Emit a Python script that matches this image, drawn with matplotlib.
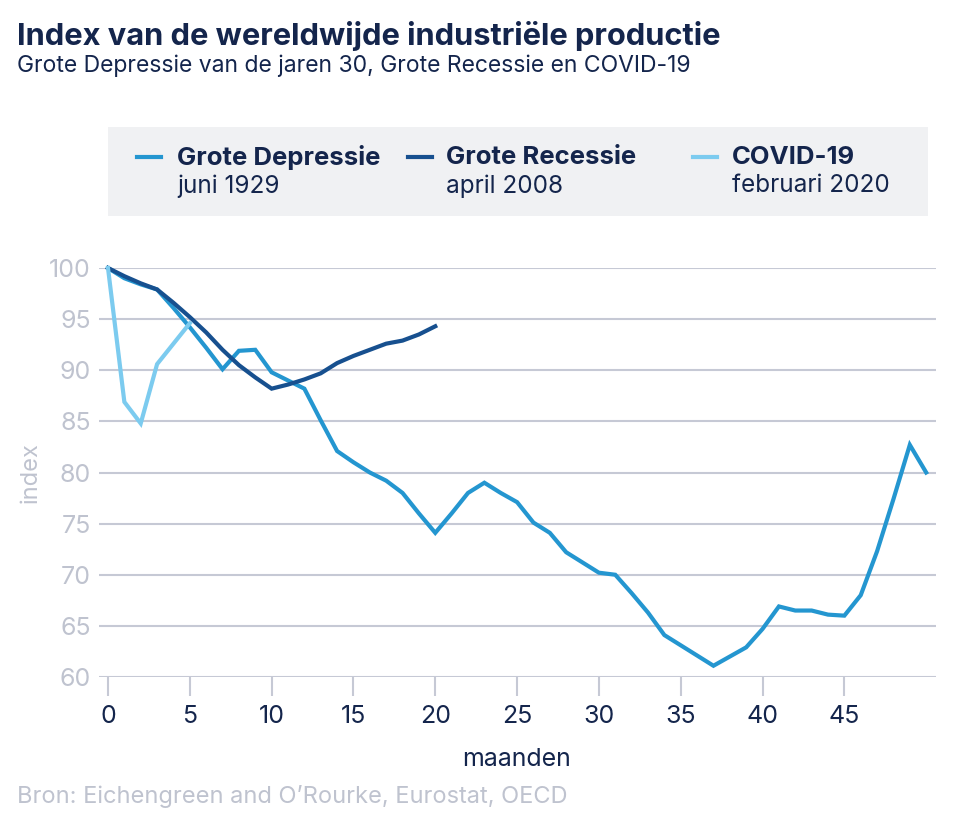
import matplotlib
matplotlib.use("Agg")
import matplotlib.pyplot as plt
from matplotlib.lines import Line2D
from matplotlib.patches import Rectangle

# ---- data ----
depressie_x = list(range(0, 51))
depressie_y = [100.0, 99.0, 98.4, 97.9, 96.1, 94.2, 92.2, 90.1, 91.9, 92.0,
               89.8, 89.0, 88.2, 85.1, 82.1, 81.0, 80.0, 79.2, 78.0, 76.0,
               74.1, 76.0, 78.0, 79.0, 78.0, 77.1, 75.1, 74.1, 72.2, 71.2,
               70.2, 70.0, 68.2, 66.3, 64.1, 63.1, 62.1, 61.1, 62.0, 62.9,
               64.7, 66.9, 66.5, 66.5, 66.1, 66.0, 68.0, 72.3, 77.4, 82.7, 80.0]
recessie_x = list(range(0, 21))
recessie_y = [100.0, 99.2, 98.5, 97.9, 96.6, 95.2, 93.7, 92.0, 90.5, 89.3,
              88.2, 88.6, 89.1, 89.7, 90.7, 91.4, 92.0, 92.6, 92.9, 93.5, 94.3]
covid_x = [0, 1, 2, 3, 4, 5]
covid_y = [100.0, 86.9, 84.8, 90.6, 92.6, 94.6]

series_names = ["Grote Depressie", "Grote Recessie", "COVID-19"]
series_dates = ["juni 1929", "april 2008", "februari 2020"]
x_ticks = [0, 5, 10, 15, 20, 25, 30, 35, 40, 45]
y_ticks = [60, 65, 70, 75, 80, 85, 90, 95, 100]

title = "Index van de wereldwijde industriële productie"
subtitle = "Grote Depressie van de jaren 30, Grote Recessie en COVID-19"
source = "Bron: Eichengreen and O’Rourke, Eurostat, OECD"

# ---- style ----
NAVY = "#14254c"
GRAY_TXT = "#bfc3cf"
GRID = "#c6c9d5"
C_DEP = "#2496d0"
C_REC = "#17508f"
C_COV = "#7ccbef"
colors = [C_DEP, C_REC, C_COV]
FONT = ["Inter", "DejaVu Sans"]
plt.rcParams["font.family"] = FONT

W, H = 960, 824
fig = plt.figure(figsize=(W / 100, H / 100), dpi=100)

def fx(px):
    return px / W

def fy(py):
    return 1 - py / H

ax = fig.add_axes([fx(99), fy(677), fx(936) - fx(99), fy(268) - fy(677)])
ax.set_xlim(-0.55, 50.6)
ax.set_ylim(60, 100)

for ys in y_ticks:
    ax.axhline(ys, color=GRID, lw=1.5, zorder=1)

ax.plot(depressie_x, depressie_y, color=C_DEP, lw=3.0, zorder=3, clip_on=False,
        solid_joinstyle="miter")
ax.plot(recessie_x, recessie_y, color=C_REC, lw=3.0, zorder=4, clip_on=False,
        solid_joinstyle="miter")
ax.plot(covid_x, covid_y, color=C_COV, lw=3.0, zorder=5, clip_on=False,
        solid_joinstyle="miter")

for s in ax.spines.values():
    s.set_visible(False)
ax.set_xticks(x_ticks)
ax.set_xticklabels([str(t) for t in x_ticks])
ax.set_yticks(y_ticks)
ax.set_yticklabels([str(t) for t in y_ticks])
ax.tick_params(axis="x", length=14, width=1.5, colors=GRID, labelcolor=NAVY,
               labelsize=18, pad=6)
ax.tick_params(axis="y", length=0, labelsize=18, labelcolor=GRAY_TXT, pad=6)
ax.set_facecolor("none")

# axis titles
fig.text(fx(517), fy(760), "maanden", ha="center", va="center",
         fontsize=18, color=NAVY)
fig.text(fx(31), fy(473), "index", ha="center", va="center", rotation=90,
         fontsize=17, color=GRAY_TXT)

# title, subtitle, source
fig.text(fx(17), fy(36), title, ha="left", va="center", fontsize=22.2,
         fontweight="bold", color=NAVY)
fig.text(fx(17), fy(66), subtitle, ha="left", va="center", fontsize=16.5,
         color=NAVY)
fig.text(fx(17), fy(797), source, ha="left", va="center", fontsize=17,
         color=GRAY_TXT)

# legend box
fig.patches.append(Rectangle((fx(108), fy(216)), fx(928) - fx(108),
                             fy(127) - fy(216), transform=fig.transFigure,
                             facecolor="#f0f1f3", edgecolor="none", zorder=0))
line_x = [137, 408, 693]
text_x = [177, 446, 732]
for i in range(3):
    fig.lines.append(Line2D([fx(line_x[i]), fx(line_x[i] + 24)], [fy(157), fy(157)],
                            transform=fig.transFigure, color=colors[i], lw=3.0))
    fig.text(fx(text_x[i]), fy(157), series_names[i], ha="left", va="center",
             fontsize=18.5, fontweight="bold", color=NAVY)
    fig.text(fx(text_x[i]), fy(186), series_dates[i], ha="left", va="center",
             fontsize=17.5, color=NAVY)

fig.savefig("out.png", dpi=100)
